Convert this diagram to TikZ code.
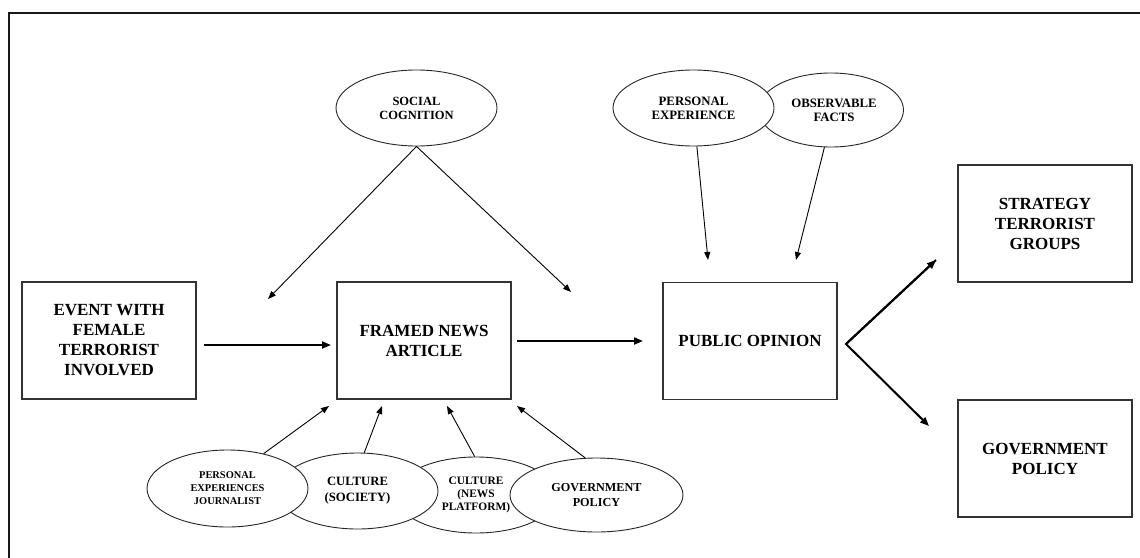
\documentclass[tikz,border=0pt]{standalone}
\usepackage{fontspec}
\setmainfont{Liberation Serif}
\usetikzlibrary{shapes.geometric,arrows.meta}
\begin{document}
\begin{tikzpicture}[x=1pt,y=-1pt,
 box/.style={draw=black!80,line width=1.2pt,minimum width=174pt,minimum height=117pt,inner sep=0pt,align=center,font=\fontsize{17}{20}\selectfont\bfseries},
 oval/.style={draw=black!85,line width=0.9pt,ellipse,fill=white,inner sep=0pt,align=center,minimum width=161pt,minimum height=76pt},
 thinarrow/.style={line width=0.9pt,-{Triangle[length=8pt,width=6pt]}},
 thickarrow/.style={line width=2pt,-{Triangle[length=9pt,width=7pt]}}]
\useasboundingbox (0,0) rectangle (1140,557);
\clip (0,0) rectangle (1140,557);
\fill[white] (0,0) rectangle (1140,557);
\draw[line width=1.5pt,black!90] (9,13) rectangle (1160,580);

% boxes
\node[box] (event) at (109,340.5) {EVENT WITH\\FEMALE\\TERRORIST\\INVOLVED};
\node[box] (framed) at (424,340.5) {FRAMED NEWS\\ARTICLE};
\node[box] (public) at (750,341) {PUBLIC OPINION};
\node[box] (strategy) at (1045,223.5) {STRATEGY\\TERRORIST\\GROUPS};
\node[box] (gov) at (1045,458.5) {GOVERNMENT\\POLICY};

% top ellipses
\node[oval,font=\fontsize{12.5}{14}\selectfont\bfseries] (sc) at (416.5,108) {SOCIAL\\COGNITION};
\node[oval,minimum width=145pt,minimum height=74pt,font=\fontsize{12.8}{14}\selectfont\bfseries] (of) at (831,110) {\hspace*{6pt}OBSERVABLE\\\hspace*{6pt}FACTS};
\node[oval,font=\fontsize{12.8}{14}\selectfont\bfseries] (pe) at (693.5,108) {PERSONAL\\EXPERIENCE};

% bottom ellipses
\node[oval,font=\fontsize{11.4}{13}\selectfont\bfseries] (np) at (476,495) {CULTURE\\(NEWS\\PLATFORM)};
\node[oval,font=\fontsize{12.7}{16}\selectfont\bfseries] (cs) at (357.5,491) {CULTURE\\(SOCIETY)};
\node[oval,minimum width=173pt,minimum height=74pt,font=\fontsize{12.2}{15}\selectfont\bfseries] (gp) at (596.5,495) {GOVERNMENT\\POLICY};
\node[oval,minimum height=77pt,font=\fontsize{10.4}{13}\selectfont\bfseries] (pej) at (227.5,488.5) {PERSONAL\\EXPERIENCES\\JOURNALIST};

% arrow tips
\coordinate (scL) at (268,299);
\coordinate (scR) at (571,292);
\coordinate (peT) at (708,260);
\coordinate (ofT) at (796,260);
\coordinate (e1) at (204,345);
\coordinate (e2) at (331,345);
\coordinate (f1) at (517,341);
\coordinate (f2) at (643,341);
\coordinate (fork) at (846,344);
\coordinate (stT) at (936,260);
\coordinate (gvT) at (929,426);
\coordinate (pejT) at (329,406);
\coordinate (csT) at (382,406);
\coordinate (npT) at (447,406);
\coordinate (gpT) at (517,406);

\draw[thickarrow] (e1) -- (e2);
\draw[thickarrow] (f1) -- (f2);
\draw[thickarrow] (stT) -- (fork) -- (gvT);
\draw[thickarrow] (fork) -- (stT);

\draw[thinarrow] (sc.south) -- (scL);
\draw[thinarrow] (sc.south) -- (scR);
\draw[thinarrow] (pe.-85) -- (peT);
\draw[thinarrow] (of.-100) -- (ofT);

\draw[thinarrow] (pej.44) -- (pejT);
\draw[thinarrow] (cs.80) -- (csT);
\draw[thinarrow] (np.92) -- (npT);
\draw[thinarrow] (gp.107) -- (gpT);
\end{tikzpicture}
\end{document}
